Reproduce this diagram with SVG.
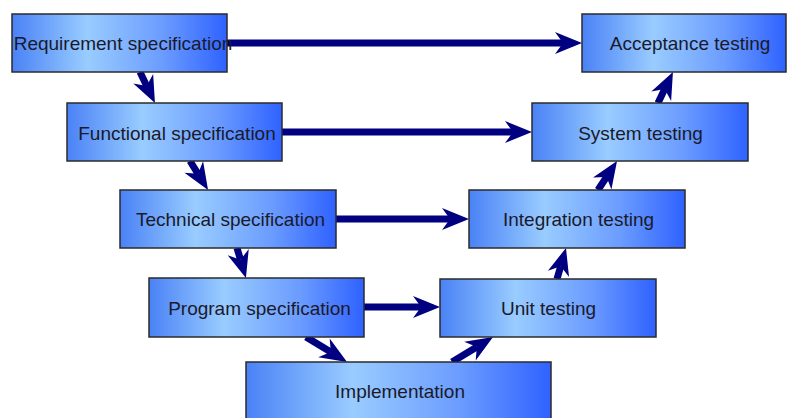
<svg xmlns="http://www.w3.org/2000/svg" width="787" height="418" viewBox="0 0 787 418">
<style>
.box{fill:url(#g);stroke:#2b2b2b;stroke-width:1.5}
.lbl{font-family:"Liberation Sans",Arial,sans-serif;font-size:19px;fill:#1a1a2a;text-anchor:middle}
.c{stroke:#000080;stroke-width:7;fill:none;marker-end:url(#ah)}
</style>
<defs>
<linearGradient id="g" x1="0" y1="0" x2="1" y2="0">
<stop offset="0" stop-color="#4a82f6"/>
<stop offset="0.35" stop-color="#99ccff"/>
<stop offset="0.7" stop-color="#6b9cff"/>
<stop offset="1" stop-color="#2f62ff"/>
</linearGradient>
<marker id="ah" markerUnits="userSpaceOnUse" viewBox="-10 -13 31 26" refX="0" refY="0" markerWidth="31" markerHeight="26" orient="auto">
<path d="M19,0 L-8,-11 L0,0 L-8,11 Z" fill="#000080"/>
</marker>
</defs>
<rect width="787" height="418" fill="#fff"/>
<g id="connectors">
<line class="c" x1="227" y1="43" x2="563" y2="43"/>
<line class="c" x1="140" y1="72" x2="146.7" y2="85.9"/>
<line class="c" x1="282" y1="132" x2="513" y2="132"/>
<line class="c" x1="190" y1="161" x2="198" y2="173.8"/>
<line class="c" x1="336" y1="219" x2="450" y2="219"/>
<line class="c" x1="237" y1="248" x2="240.5" y2="259.8"/>
<line class="c" x1="364" y1="307" x2="421" y2="307"/>
<line class="c" x1="306" y1="337" x2="330.8" y2="352.1"/>
<line class="c" x1="452" y1="362" x2="476.8" y2="346.9"/>
<line class="c" x1="557" y1="279" x2="560.7" y2="266.2"/>
<line class="c" x1="598" y1="190" x2="606.6" y2="176.9"/>
<line class="c" x1="658" y1="103" x2="664.7" y2="89.1"/>
</g>
<g id="req"><rect class="box" x="12" y="14" width="215" height="58"/><text class="lbl" x="123" y="50">Requirement specification</text></g>
<g id="acc"><rect class="box" x="582" y="14" width="204" height="58"/><text class="lbl" x="690" y="50">Acceptance testing</text></g>
<g id="func"><rect class="box" x="67" y="103" width="215" height="58"/><text class="lbl" x="177" y="140">Functional specification</text></g>
<g id="sys"><rect class="box" x="532" y="103" width="216" height="58"/><text class="lbl" x="640.5" y="140">System testing</text></g>
<g id="tech"><rect class="box" x="120" y="190" width="216" height="58"/><text class="lbl" x="230.5" y="226">Technical specification</text></g>
<g id="integ"><rect class="box" x="469" y="190" width="216" height="58"/><text class="lbl" x="578.5" y="226">Integration testing</text></g>
<g id="prog"><rect class="box" x="149" y="278" width="215" height="59"/><text class="lbl" x="259.5" y="315">Program specification</text></g>
<g id="unit"><rect class="box" x="440" y="279" width="216" height="58"/><text class="lbl" x="548.5" y="315">Unit testing</text></g>
<g id="impl"><rect class="box" x="246" y="362" width="305" height="70"/><text class="lbl" x="400" y="398">Implementation</text></g>
</svg>
